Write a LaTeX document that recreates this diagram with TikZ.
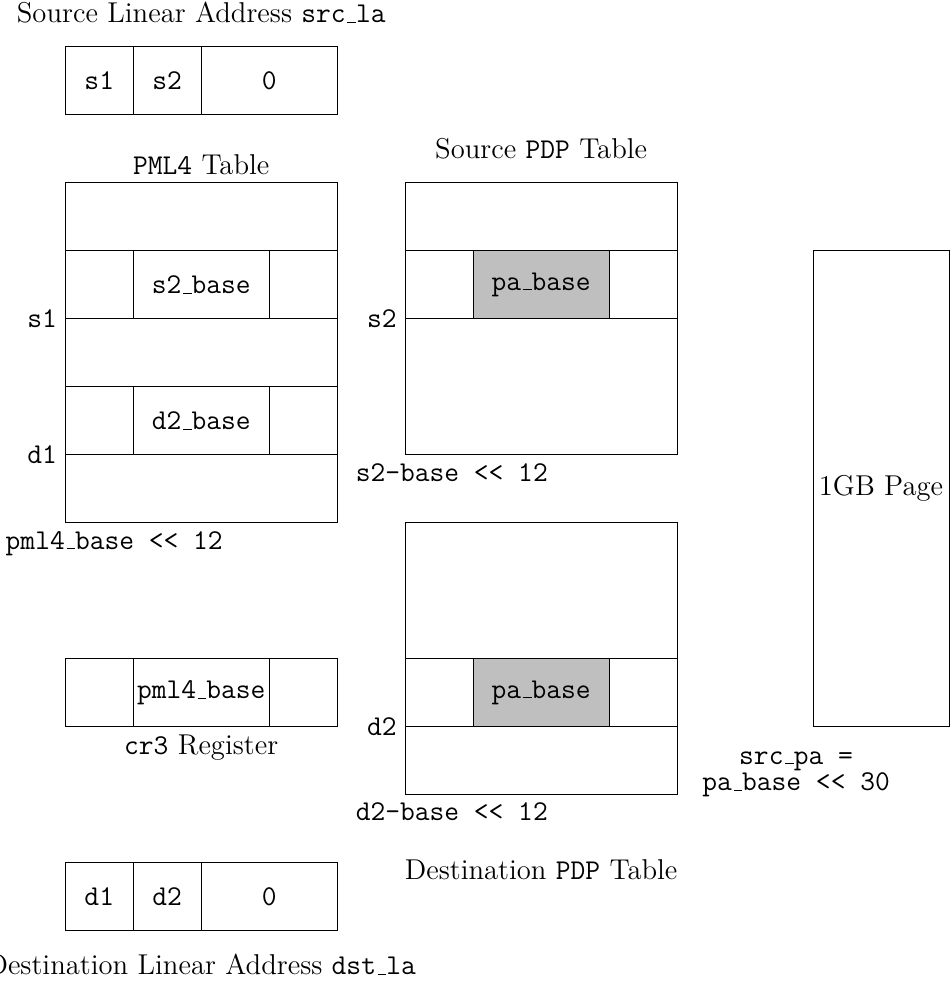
\documentclass[tikz,border=0pt]{standalone}
\usepackage{tikz}
\usetikzlibrary{positioning}
\newcommand{\usc}{\leavevmode\kern.06em\vbox{\hrule width.3em}}

\begin{document}
\begin{tikzpicture}[node distance=0pt,
  cell/.style={draw, inner sep=0pt, outer sep=0pt, minimum height=1cm,
               font=\large\ttfamily},
  row/.style={cell, minimum width=4cm},
  entry/.style={cell, minimum width=2cm},
  hit/.style={entry, fill=lightgray},
  lbl/.style={font=\large},
  tag/.style={font=\large\ttfamily}]
  \useasboundingbox (0.04,-6.77) rectangle (14.01,7.69);
  % source linear address
  \node[lbl] (srcla) at (3,7.5) {Source Linear Address \texttt{src\usc la}};
  \node[cell, minimum width=1cm] (sa1) at (1.5,6.5) {s1};
  \node[cell, minimum width=1cm, right=of sa1] (sa2) {s2};
  \node[cell, minimum width=2cm, right=of sa2] (sa3) {0};
  % PML4 table
  \node[row] (p1) at (3,4.5) {};
  \node[row, below=of p1] (p2) {};
  \node[row, below=of p2] (p3) {};
  \node[row, below=of p3] (p4) {};
  \node[row, below=of p4] (p5) {};
  \node[entry] (s2base) at (p2) {s2\usc base};
  \node[entry] (d2base) at (p4) {d2\usc base};
  \node[lbl, above] (pml4title) at (p1.north) {\texttt{PML4} Table};
  \node[tag, left] (s1idx) at (p2.south west) {s1};
  \node[tag, left] (d1idx) at (p4.south west) {d1};
  \node[tag, below right] (pml4addr) at (0,0) {pml4\usc base << 12};
  % source PDP table
  \node[lbl] (sptitle) at (8,5.5) {Source \texttt{PDP} Table};
  \node[row] (sp1) at (8,4.5) {};
  \node[row, below=of sp1] (sp2) {};
  \node[row, minimum height=2cm, below=of sp2] (sp3) {};
  \node[hit] (spbase) at (sp2) {pa\usc base};
  \node[tag, left] (s2idx) at (sp2.south west) {s2};
  \node[tag, below right] (spaddr) at (5.15,1) {s2-base << 12};
  % destination PDP table
  \node[row, minimum height=2cm] (dp1) at (8,-1) {};
  \node[row, below=of dp1] (dp2) {};
  \node[row, below=of dp2] (dp3) {};
  \node[hit] (dpbase) at (dp2) {pa\usc base};
  \node[tag, left] (d2idx) at (dp2.south west) {d2};
  \node[tag, below right] (dpaddr) at (5.15,-4) {d2-base << 12};
  \node[lbl] (dptitle) at (8,-5.1) {Destination \texttt{PDP} Table};
  % cr3
  \node[entry] (cr3mid) at (3,-2.5) {pml4\usc base};
  \node[cell, minimum width=1cm, left=of cr3mid] (cr3l) {};
  \node[cell, minimum width=1cm, right=of cr3mid] (cr3r) {};
  \node[lbl, below] (cr3lbl) at (cr3mid.south) {\texttt{cr3} Register};
  % destination linear address
  \node[cell, minimum width=1cm] (da1) at (1.5,-5.5) {d1};
  \node[cell, minimum width=1cm, right=of da1] (da2) {d2};
  \node[cell, minimum width=2cm, right=of da2] (da3) {0};
  \node[lbl] (dstla) at (3,-6.5) {Destination Linear Address \texttt{dst\usc la}};
  % 1GB page
  \node[cell, font=\large, minimum width=2cm, minimum height=7cm] (page) at (13,0.5) {1GB Page};
  \node[tag, align=center] (srcpa) at (11.75,-3.7) {src\usc pa =\\[-3pt]pa\usc base << 30};
\end{tikzpicture}
\end{document}
